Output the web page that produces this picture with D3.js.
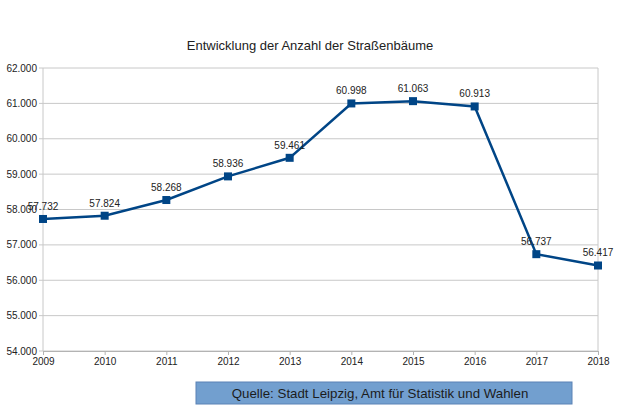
<!DOCTYPE html>
<html>
<head>
<meta charset="utf-8">
<script src="https://cdn.jsdelivr.net/npm/d3@7"></script>
<style>
  body { margin: 0; background: #fff; }
  text { font-family: "Liberation Sans", Arial, sans-serif; }
</style>
</head>
<body>
<div id="chart"></div>
<script>
// Anzahl der Straßenbäume in Leipzig
let years = [2009, 2010, 2011, 2012, 2013, 2014, 2015, 2016, 2017, 2018];
let trees = [57732, 57824, 58268, 58936, 59461, 60998, 61063, 60913, 56737, 56417];
let yTicks = [54000, 55000, 56000, 57000, 58000, 59000, 60000, 61000, 62000];

let svgWidth = 620;
let svgHeight = 413;
let margin = { top: 68, right: 22, bottom: 62, left: 43 };
let width = svgWidth - margin.left - margin.right;
let height = svgHeight - margin.top - margin.bottom;

let fmt = d3.formatLocale({ decimal: ",", thousands: ".", grouping: [3] }).format(",.0f");
let fmt3 = d => {
    let s = String(d);
    return s.slice(0, s.length - 3) + "." + s.slice(-3);
};

let svg = d3.select('#chart')
            .append('svg')
                .attr('width', svgWidth)
                .attr('height', svgHeight);

svg.append('text')
    .attr('x', 310)
    .attr('y', 50)
    .attr('text-anchor', 'middle')
    .attr('font-size', 13)
    .attr('fill', '#222')
    .text('Entwicklung der Anzahl der Straßenbäume');

let g = svg.append('g')
            .attr('transform', `translate(${margin.left},${margin.top})`);

let x = d3.scaleLinear()
            .domain([d3.min(years), d3.max(years)])
            .range([0, width]);

let y = d3.scaleLinear()
            .domain([54000, 62000])
            .range([height, 0]);

// grid lines
g.selectAll('.grid')
    .data(yTicks)
    .enter()
        .append('line')
        .attr('x1', -4)
        .attr('x2', width)
        .attr('y1', d => y(d))
        .attr('y2', d => y(d))
        .attr('stroke', '#c8c8c8')
        .attr('stroke-width', 1);

// right border
g.append('line')
    .attr('x1', width).attr('x2', width)
    .attr('y1', 0).attr('y2', height)
    .attr('stroke', '#c8c8c8');

// left axis line
g.append('line')
    .attr('x1', 0).attr('x2', 0)
    .attr('y1', 0).attr('y2', height)
    .attr('stroke', '#c8c8c8');

// bottom axis
let xAxis = d3.axisBottom(x)
    .tickValues(years)
    .tickFormat(d3.format('d'))
    .tickSize(4)
    .tickPadding(3);

let xg = g.append('g')
    .attr('transform', `translate(0,${height})`)
    .call(xAxis);
xg.select('.domain').attr('stroke', '#b3b3b3');
xg.selectAll('.tick line').attr('stroke', '#b3b3b3');
xg.selectAll('text').attr('font-size', 10).attr('fill', '#222')
    .attr('font-family', '"Liberation Sans", Arial, sans-serif');

// y tick labels
g.selectAll('.ylab')
    .data(yTicks)
    .enter()
        .append('text')
        .attr('x', -6)
        .attr('y', d => y(d))
        .attr('dy', '0.35em')
        .attr('text-anchor', 'end')
        .attr('font-size', 10)
        .attr('fill', '#222')
        .text(d => fmt(d));

// the line
let points = years.map((yr, i) => ({ year: yr, value: trees[i] }));

let line = d3.line()
    .x(d => x(d.year))
    .y(d => y(d.value));

g.append('path')
    .datum(points)
    .attr('d', line)
    .attr('fill', 'none')
    .attr('stroke', '#004586')
    .attr('stroke-width', 2.5);

g.selectAll('.marker')
    .data(points)
    .enter()
        .append('rect')
        .attr('x', d => x(d.year) - 4)
        .attr('y', d => y(d.value) - 4)
        .attr('width', 8)
        .attr('height', 8)
        .attr('fill', '#004586');

g.selectAll('.vlab')
    .data(points)
    .enter()
        .append('text')
        .attr('x', d => x(d.year))
        .attr('y', d => y(d.value) - 9)
        .attr('text-anchor', 'middle')
        .attr('font-size', 10)
        .attr('fill', '#222')
        .text(d => fmt3(d.value));

// source box
svg.append('rect')
    .attr('x', 196)
    .attr('y', 382)
    .attr('width', 376)
    .attr('height', 22)
    .attr('fill', '#729fcf')
    .attr('stroke', '#5b82b5')
    .attr('stroke-width', 1);

svg.append('text')
    .attr('x', 380)
    .attr('y', 398)
    .attr('text-anchor', 'middle')
    .attr('font-size', 13.3)
    .attr('fill', '#1c1c1c')
    .text('Quelle: Stadt Leipzig, Amt für Statistik und Wahlen');
</script>
</body>
</html>
